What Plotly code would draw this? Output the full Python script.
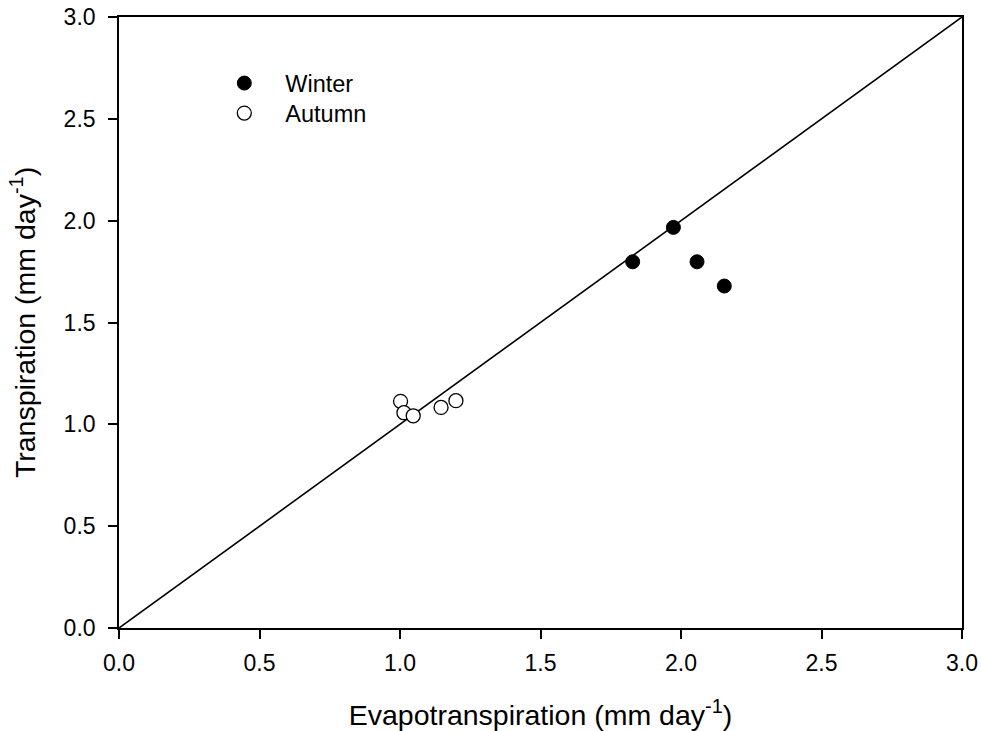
import plotly.graph_objects as go

# Measured daily rates (mm day^-1)
winter_et = [1.828, 1.973, 2.057, 2.154]
winter_t = [1.798, 1.967, 1.798, 1.679]
autumn_et = [1.002, 1.014, 1.047, 1.146, 1.199]
autumn_t = [1.113, 1.057, 1.042, 1.083, 1.116]

# 1:1 reference line
line_x = [0.0, 3.0]
line_y = [0.0, 3.0]

tick_vals = [0.0, 0.5, 1.0, 1.5, 2.0, 2.5, 3.0]
tick_text = ["0.0", "0.5", "1.0", "1.5", "2.0", "2.5", "3.0"]

FONT = "Arial, Liberation Sans, sans-serif"

fig = go.Figure()
fig.add_trace(go.Scatter(
    x=line_x, y=line_y, mode="lines",
    line=dict(color="black", width=1.6),
    showlegend=False, hoverinfo="skip",
))
fig.add_trace(go.Scatter(
    x=winter_et, y=winter_t, mode="markers", name="Winter", legend="legend",
    marker=dict(symbol="circle", size=14, color="black",
                line=dict(color="black", width=1)),
))
fig.add_trace(go.Scatter(
    x=autumn_et, y=autumn_t, mode="markers", name="Autumn", legend="legend2",
    marker=dict(symbol="circle", size=14, color="white",
                line=dict(color="black", width=1.3)),
))

axis_common = dict(
    range=[0, 3], tickvals=tick_vals, ticktext=tick_text,
    ticks="outside", ticklen=9, tickwidth=1.6, tickcolor="black",
    showline=True, linecolor="black", linewidth=1.6, mirror=True,
    showgrid=False, zeroline=False, automargin=False,
    tickfont=dict(family=FONT, size=23, color="black"),
)

legend_common = dict(
    xanchor="left", yanchor="top",
    bgcolor="rgba(0,0,0,0)", borderwidth=0,
    font=dict(family=FONT, size=23.5, color="black"),
    itemwidth=72,
)

fig.update_layout(
    width=981, height=731,
    margin=dict(l=119, r=19, t=17, b=103),
    paper_bgcolor="white", plot_bgcolor="white",
    xaxis=dict(**axis_common, ticklabelstandoff=5,
               title=dict(text="Evapotranspiration (mm day<sup>-1</sup>)",
                          font=dict(family=FONT, size=28.5, color="black"),
                          standoff=31)),
    yaxis=dict(**axis_common, ticklabelstandoff=8,
               title=dict(text="Transpiration (mm day<sup>-1</sup>)",
                          font=dict(family=FONT, size=28.5, color="black"),
                          standoff=20)),
    legend=dict(**legend_common, x=0.1, y=0.9275),
    legend2=dict(**legend_common, x=0.1, y=0.8784),
)

fig.write_html("out.html")
